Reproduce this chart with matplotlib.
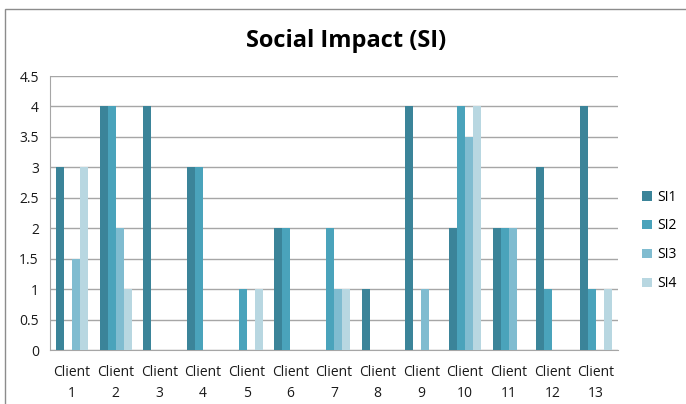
import matplotlib.pyplot as plt
import numpy as np
from matplotlib.patches import Rectangle

plt.rcParams["font.family"] = ["Open Sans", "DejaVu Sans"]

clients = [f"Client\n{i}" for i in range(1, 14)]
si1 = [3, 4, 4, 3, 0, 2, 0, 1, 4, 2, 2, 3, 4]
si2 = [0, 4, 0, 3, 1, 2, 2, 0, 0, 4, 2, 1, 1]
si3 = [1.5, 2, 0, 0, 0, 0, 1, 0, 1, 3.5, 2, 0, 0]
si4 = [3, 1, 0, 0, 1, 0, 1, 0, 0, 4, 0, 0, 1]
series = {"SI1": si1, "SI2": si2, "SI3": si3, "SI4": si4}
colors = ["#3b8499", "#4aa3bb", "#80bcd0", "#b8d7e1"]

fig = plt.figure(figsize=(6.86, 4.04), dpi=100)
ax = fig.add_axes([50 / 686, 1 - 350 / 404, 568 / 686, 274 / 404])

# chart border (left/top visible, right/bottom cut off)
fig.patches.append(Rectangle((5 / 686, -0.1), 1.2, 1 - 9 / 404 + 0.1,
                             transform=fig.transFigure, fill=False,
                             edgecolor="#8c8c8c", lw=1.0))

x = np.arange(len(clients))
w = 0.183
for k, (name, vals) in enumerate(series.items()):
    ax.bar(x - 1.5 * w + k * w, vals, width=w, color=colors[k], label=name, zorder=3)

ax.set_xlim(-0.5, len(clients) - 0.5)
ax.set_ylim(0, 4.5)
ax.set_yticks(np.arange(0, 4.51, 0.5))
ax.set_yticklabels(["0", "0.5", "1", "1.5", "2", "2.5", "3", "3.5", "4", "4.5"])
ax.set_xticks(x)
ax.set_xticklabels(clients, linespacing=1.5)
ax.tick_params(axis="both", length=0, labelsize=10, colors="#1a1a1a")
ax.tick_params(axis="y", pad=8)
ax.tick_params(axis="x", pad=11)
ax.yaxis.grid(True, color="#a6a6a6", lw=1.0, zorder=0)
ax.set_axisbelow(True)
for s in ["top", "right"]:
    ax.spines[s].set_visible(False)
ax.spines["left"].set_color("#a6a6a6")
ax.spines["bottom"].set_color("#a6a6a6")

fig.text(346 / 686, 1 - 41 / 404, "Social Impact (SI)", ha="center", va="center",
         fontsize=17, fontweight="bold", color="black")

ax.legend(loc="center left", bbox_to_anchor=(1.02, 0.4), frameon=False,
          handlelength=0.7, handleheight=0.7, handletextpad=0.4,
          labelspacing=1.0, fontsize=10)

fig.savefig("out.png", dpi=100)
